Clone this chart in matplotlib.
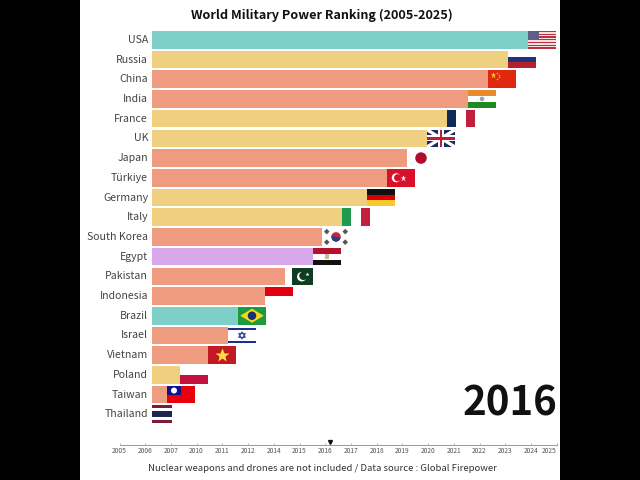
import matplotlib
matplotlib.use("Agg")
import matplotlib.pyplot as plt
from matplotlib.patches import Rectangle, Ellipse, Polygon
from matplotlib.transforms import ScaledTranslation

plt.rcParams['font.family'] = ['Noto Sans CJK JP', 'DejaVu Sans']

countries = ['USA', 'Russia', 'China', 'India', 'France', 'UK', 'Japan', 'Türkiye', 'Germany', 'Italy',
             'South Korea', 'Egypt', 'Pakistan', 'Indonesia', 'Brazil', 'Israel', 'Vietnam', 'Poland',
             'Taiwan', 'Thailand']
# bar length (Thailand sits below the left edge, only its flag shows)
power = [376, 356, 336, 316, 295, 275, 255, 235, 215, 190, 170, 161, 133, 113, 86, 76, 56, 28, 15, -8]
regions = ['america', 'europe', 'asia', 'asia', 'europe', 'europe', 'asia', 'asia', 'europe', 'europe',
           'asia', 'africa', 'asia', 'asia', 'america', 'asia', 'asia', 'europe', 'asia', 'asia']
region_colors = {'america': '#7DCFC7', 'europe': '#EFD080', 'asia': '#EF9B80', 'africa': '#D8A9EA'}
timeline_labels = ['2005', '2006', '2007', '2010', '2011', '2012', '2014', '2015', '2016', '2017',
                   '2018', '2019', '2020', '2021', '2022', '2023', '2024', '2025']
current_year = '2016'

FLAG_W = 28
BAR_H = 0.893
W, H = 640, 480


def px_axes(fig, x0, y0, x1, y1):
    return fig.add_axes([x0 / W, 1 - y1 / H, (x1 - x0) / W, (y1 - y0) / H])


class Flag:
    def __init__(self, ax, row, value):
        self.ax = ax
        self.x0 = value
        self.y0 = row - BAR_H / 2

    def rect(self, u, v, w, h, color, z=3):
        self.ax.add_patch(Rectangle((self.x0 + u * FLAG_W, self.y0 + v * BAR_H), w * FLAG_W, h * BAR_H,
                                    fc=color, ec='none', zorder=z))

    def circle(self, u, v, d, color, z=4):
        # d is a diameter in px, the y axis is in rows
        self.ax.add_patch(Ellipse((self.x0 + u * FLAG_W, self.y0 + v * BAR_H), d, d / 19.71,
                                  fc=color, ec='none', zorder=z))

    def star(self, u, v, size, color):
        self.ax.plot(self.x0 + u * FLAG_W, self.y0 + v * BAR_H, marker='*', ms=size, mfc=color, mec='none',
                     zorder=5)

    def poly(self, pts, color, z=4):
        pts = [(self.x0 + u * FLAG_W, self.y0 + v * BAR_H) for u, v in pts]
        self.ax.add_patch(Polygon(pts, fc=color, ec='none', zorder=z))

    def outline(self, pts, color):
        pts = [(self.x0 + u * FLAG_W, self.y0 + v * BAR_H) for u, v in pts]
        self.ax.add_patch(Polygon(pts, fc='none', ec=color, lw=0.8, zorder=5))

    def stripes(self, colors):
        n = len(colors)
        for i, c in enumerate(colors):
            self.rect(0, i / n, 1, 1 / n, c)

    def columns(self, colors):
        n = len(colors)
        for i, c in enumerate(colors):
            self.rect(i / n, 0, 1 / n, 1, c)


def draw_flag(f, name):
    if name == 'USA':
        f.stripes(['#B8323F', '#F8DDE0'] * 6 + ['#B8323F'])
        f.rect(0, 0, 0.4, 0.54, '#5F5E88', z=4)
    elif name == 'Russia':
        f.stripes(['white', '#1C3578', '#B3202F'])
    elif name == 'China':
        f.rect(0, 0, 1, 1, '#DE2910')
        f.star(0.17, 0.27, 5, '#FFC61E')
        for u, v in [(0.33, 0.12), (0.39, 0.24), (0.39, 0.38), (0.33, 0.48)]:
            f.star(u, v, 1.8, '#FFC61E')
    elif name == 'India':
        f.stripes(['#E88B2E', 'white', '#1F8A1F'])
        f.circle(0.5, 0.5, 4.5, '#9AA0B8')
    elif name == 'France':
        f.columns(['#0F2A55', 'white', '#C2203A'])
    elif name == 'UK':
        f.rect(0, 0, 1, 1, '#1A2A63')
        f.poly([(0, 0), (0.1, 0), (1, 0.88), (1, 1), (0.9, 1), (0, 0.12)], 'white')
        f.poly([(1, 0), (0.9, 0), (0, 0.88), (0, 1), (0.1, 1), (1, 0.12)], 'white')
        f.rect(0.4, 0, 0.2, 1, 'white', z=4)
        f.rect(0, 0.33, 1, 0.34, 'white', z=4)
        f.rect(0.45, 0, 0.1, 1, '#B81F36', z=4)
        f.rect(0, 0.41, 1, 0.18, '#B81F36', z=4)
    elif name == 'Japan':
        f.circle(0.5, 0.5, 11.5, '#B00C2F')
    elif name == 'Türkiye':
        f.rect(0, 0, 1, 1, '#D8102A')
        f.circle(0.33, 0.5, 9, 'white')
        f.circle(0.38, 0.5, 7.2, '#D8102A', z=5)
        f.star(0.56, 0.5, 4.5, 'white')
    elif name == 'Germany':
        f.stripes(['#111111', '#D80000', '#F7C92E'])
    elif name == 'Italy':
        f.columns(['#1F9A50', 'white', '#C2203F'])
    elif name == 'South Korea':
        f.circle(0.5, 0.5, 9.5, '#C0283F')
        f.poly([(0.33, 0.44), (0.67, 0.56), (0.6, 0.72), (0.5, 0.78), (0.38, 0.7)], '#2A3D86', z=5)
        for u, v in [(0.17, 0.2), (0.83, 0.2), (0.17, 0.8), (0.83, 0.8)]:
            f.poly([(u - 0.1, v), (u, v - 0.16), (u + 0.1, v), (u, v + 0.16)], '#555555')
    elif name == 'Egypt':
        f.stripes(['#B80F2C', 'white', '#111111'])
        f.rect(0.44, 0.38, 0.12, 0.24, '#C9B79A')
    elif name == 'Pakistan':
        f.rect(0.25, 0, 0.75, 1, '#0F3D23')
        f.circle(0.6, 0.52, 9.5, 'white')
        f.circle(0.66, 0.47, 8.5, '#0F3D23', z=5)
        f.star(0.78, 0.36, 3, 'white')
    elif name == 'Indonesia':
        f.stripes(['#E00010', 'white'])
    elif name == 'Brazil':
        f.rect(0, 0, 1, 1, '#1E9A3C')
        f.poly([(0.08, 0.5), (0.5, 0.1), (0.92, 0.5), (0.5, 0.9)], '#F5D91E')
        f.circle(0.5, 0.5, 8.5, '#1A2F6E', z=5)
    elif name == 'Israel':
        f.rect(0, 0.08, 1, 0.12, '#1B2F8A')
        f.rect(0, 0.8, 1, 0.12, '#1B2F8A')
        f.outline([(0.5, 0.3), (0.62, 0.61), (0.38, 0.61)], '#3B4A9A')
        f.outline([(0.5, 0.7), (0.62, 0.39), (0.38, 0.39)], '#3B4A9A')
    elif name == 'Vietnam':
        f.rect(0, 0, 1, 1, '#C01B24')
        f.star(0.5, 0.5, 10, '#FFDF3A')
    elif name == 'Poland':
        f.stripes(['white', '#C4103C'])
    elif name == 'Taiwan':
        f.rect(0, 0, 1, 1, '#E8000B')
        f.rect(0, 0, 0.5, 0.55, '#10108A', z=4)
        f.circle(0.25, 0.27, 6, 'white', z=5)
    elif name == 'Thailand':
        f.stripes(['#7E1A3A', 'white', '#22264F', '#22264F', 'white', '#7E1A3A'])


fig = plt.figure(figsize=(6.4, 4.8), dpi=100, facecolor='white')
fig.add_artist(Rectangle((0, 0), 80 / W, 1, transform=fig.transFigure, fc='black', ec='none'))
fig.add_artist(Rectangle((560 / W, 0), 80 / W, 1, transform=fig.transFigure, fc='black', ec='none'))

ax = px_axes(fig, 152, 29.94, 560, 424.14)
ax.patch.set_alpha(0)
rows = list(range(len(countries)))
ax.barh(rows, power, height=BAR_H, color=[region_colors[r] for r in regions], zorder=2)
ax.set_xlim(0, 408)
ax.set_ylim(19.5, -0.5)
ax.set_yticks(rows)
ax.set_yticklabels(countries, fontsize=7.6, color='#444444')
ax.tick_params(axis='y', length=0, pad=2.8)
ax.set_xticks([])
for lab in ax.get_yticklabels():
    lab.set_transform(lab.get_transform() + ScaledTranslation(0, 0.7 / 72, fig.dpi_scale_trans))
for s in ax.spines.values():
    s.set_visible(False)
for row, name, value in zip(rows, countries, power):
    draw_flag(Flag(ax, row, value), name)

# timeline at the bottom
tl = px_axes(fig, 119.5, 436, 556.7, 445)
tl.patch.set_alpha(0)
positions = list(range(len(timeline_labels)))
tl.set_xlim(0, len(timeline_labels) - 1)
tl.set_ylim(0, 1)
tl.set_yticks([])
tl.set_xticks(positions)
tl.set_xticklabels(timeline_labels, fontsize=4.8, color='#555555')
tl.get_xticklabels()[-1].set_ha('right')
tl.tick_params(axis='x', direction='in', length=1.5, width=0.5, color='#999999', pad=1.5)
for s in ['top', 'left', 'right']:
    tl.spines[s].set_visible(False)
tl.spines['bottom'].set_color('#999999')
tl.spines['bottom'].set_linewidth(0.7)
tl.plot(timeline_labels.index(current_year) + 0.2, 0.35, marker='v', ms=2.8, color='#111111', clip_on=False)

fig.text(322 / W, 1 - 15 / H, 'World Military Power Ranking (2005-2025)', fontsize=9.1, fontweight='bold',
         ha='center', va='center', color='#111111')
fig.text(322.5 / W, 1 - 468.5 / H, 'Nuclear weapons and drones are not included / Data source : Global Firepower',
         fontsize=6.9, ha='center', va='center', color='#333333')
fig.text(557 / W, 1 - 403.5 / H, current_year, fontsize=29, fontweight='bold', ha='right', va='center',
         color='#111111')

fig.savefig('out.png', dpi=100)
